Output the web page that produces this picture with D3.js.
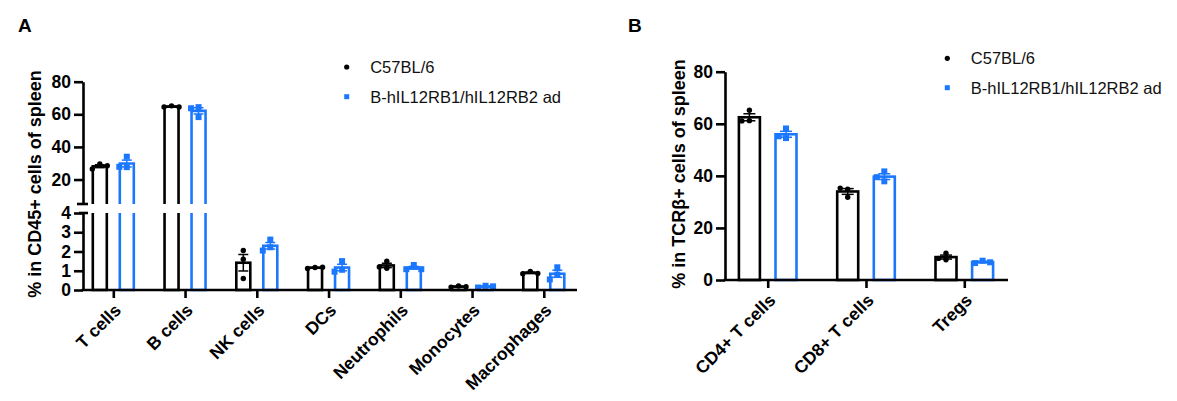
<!DOCTYPE html>
<html>
<head>
<meta charset="utf-8">
<script src="https://cdn.jsdelivr.net/npm/d3@7"></script>
<style>
  html, body { margin: 0; padding: 0; background: #fff; }
  svg { display: block; font-family: "Liberation Sans", Arial, sans-serif; }
</style>
</head>
<body>
<svg id="chart" width="1177" height="401"></svg>
<script>
// ---------- DATA ----------
const seriesNames = ["C57BL/6", "B-hIL12RB1/hIL12RB2 ad"];

const catsA = ["T cells", "B cells", "NK cells", "DCs", "Neutrophils", "Monocytes", "Macrophages"];
const wtA = [
  [29.5, 26.5, 28.5],
  [65.2, 64.5, 64.5],
  [2.05, 1.6, 0.6],
  [1.17, 1.12, 1.18],
  [1.5, 1.13, 1.2],
  [0.21, 0.15, 0.17],
  [0.97, 0.85, 0.86]
];
const hA = [
  [34.0, 27.6, 27.8],
  [64.4, 58.3, 63.7],
  [2.62, 2.22, 2.05],
  [1.5, 1.05, 0.95],
  [1.3, 1.08, 1.08],
  [0.22, 0.13, 0.19],
  [1.18, 0.8, 0.55]
];
const ticksAUpper = [20, 40, 60, 80];
const ticksALower = [0, 1, 2, 3, 4];

const catsB = ["CD4+ T cells", "CD8+ T cells", "Tregs"];
const wtB = [
  [65.2, 61.2, 61.1],
  [34.9, 31.8, 35.3],
  [10.3, 7.8, 8.3]
];
const hB = [
  [58.2, 54.5, 55.2],
  [41.7, 37.9, 39.5],
  [7.4, 6.5, 6.8]
];
const ticksB = [0, 20, 40, 60, 80];

// ---------- STYLE ----------
const BLACK = "#000000";
const BLUE = "#1C77FF";
const FONT_TICK = 17.5;
const FONT_XLAB = 17.5;
const FONT_TITLE = 18;

const svg = d3.select("#chart");
const fmt = d3.format("d");

function mean(a) { return d3.mean(a); }
function sem(a) { return d3.deviation(a) / Math.sqrt(a.length); }

// simple beeswarm: spread points horizontally when they overlap
function swarm(vals, yfn, r) {
  const placed = [];
  const d = 2 * r + 1.5;
  vals.forEach(v => {
    const y = yfn(v);
    const cands = [0, -d, d, -2 * d, 2 * d];
    let off = 0;
    for (const c of cands) {
      if (placed.every(p => Math.hypot(p.dx - c, p.y - y) >= 2 * r + 0.5)) { off = c; break; }
    }
    placed.push({ v, y, dx: off });
  });
  return placed;
}

function drawPoints(g, pts, cx, color, shape) {
  pts.forEach(p => {
    if (shape === "circle") {
      g.append("circle").attr("cx", cx + p.dx).attr("cy", p.y).attr("r", 2.7).attr("fill", color);
    } else {
      g.append("rect").attr("x", cx + p.dx - 3).attr("y", p.y - 3).attr("width", 6).attr("height", 6).attr("fill", color);
    }
  });
}

function drawErr(g, vals, yfn, cx, color, capW) {
  const m = mean(vals), s = sem(vals);
  g.append("line").attr("x1", cx).attr("x2", cx).attr("y1", yfn(m - s)).attr("y2", yfn(m + s))
    .attr("stroke", color).attr("stroke-width", 1.5);
  [m - s, m + s].forEach(v => {
    g.append("line").attr("x1", cx - capW / 2).attr("x2", cx + capW / 2).attr("y1", yfn(v)).attr("y2", yfn(v))
      .attr("stroke", color).attr("stroke-width", 1.5);
  });
}

// ---------- PANEL A ----------
const gA = svg.append("g");
const axAx = 83;
const yUpper = d3.scaleLinear().domain([5, 80]).range([204, 81.7]);
const yLower = d3.scaleLinear().domain([0, 4]).range([290, 213]);
const yA = v => (v <= 4.5 ? yLower(v) : yUpper(v));
const xA = d3.scalePoint().domain(catsA).range([113.3, 543.8]);
const offA = 13.5, bwA = 14;

catsA.forEach((c, i) => {
  [[wtA[i], -offA, BLACK, "circle"], [hA[i], offA, BLUE, "square"]].forEach(([vals, off, col, shape]) => {
    const cx = xA(c) + off;
    const m = mean(vals);
    const x0 = cx - bwA / 2, x1 = cx + bwA / 2;
    if (m <= 4) {
      gA.append("rect").attr("x", x0).attr("y", yLower(m)).attr("width", bwA).attr("height", yLower(0) - yLower(m))
        .attr("fill", "none").attr("stroke", col).attr("stroke-width", 2.6);
    } else {
      gA.append("path").attr("d", `M${x0},${yLower(4)}V${yLower(0)}H${x1}V${yLower(4)}`)
        .attr("fill", "none").attr("stroke", col).attr("stroke-width", 2.6);
      gA.append("path").attr("d", `M${x0},${yUpper(5)}V${yUpper(m)}H${x1}V${yUpper(5)}`)
        .attr("fill", "none").attr("stroke", col).attr("stroke-width", 2.6);
    }
    const pts = swarm(vals, yA, 3);
    drawPoints(gA, pts, cx, col, shape);
    drawErr(gA, vals, yA, cx, col, 10);
  });
});

gA.append("g").attr("transform", `translate(${axAx},0)`)
  .call(d3.axisLeft(yUpper).tickValues(ticksAUpper).tickFormat(fmt).tickSize(9).tickPadding(3).tickSizeOuter(0));
gA.append("g").attr("transform", `translate(${axAx},0)`)
  .call(d3.axisLeft(yLower).tickValues(ticksALower).tickFormat(fmt).tickSize(9).tickPadding(3).tickSizeOuter(0));
// break marks
gA.append("line").attr("x1", axAx - 6).attr("x2", axAx + 5).attr("y1", yUpper(5)).attr("y2", yUpper(5))
  .attr("stroke", BLACK).attr("stroke-width", 2.6);
gA.append("line").attr("x1", axAx - 4).attr("x2", axAx + 5).attr("y1", yLower(4)).attr("y2", yLower(4))
  .attr("stroke", BLACK).attr("stroke-width", 2.6);

const axX = gA.append("g").attr("transform", `translate(0,${yLower(0)})`)
  .call(d3.axisBottom(xA).tickSize(8).tickSizeOuter(0));
axX.select(".domain").remove();
gA.append("line").attr("x1", axAx - 1.3).attr("x2", 577).attr("y1", yLower(0)).attr("y2", yLower(0))
  .attr("stroke", BLACK).attr("stroke-width", 2.6);

gA.append("text").attr("transform", `translate(41,184) rotate(-90)`)
  .attr("text-anchor", "middle").attr("font-size", FONT_TITLE).attr("font-weight", "bold")
  .text("% in CD45+ cells of spleen");
gA.append("text").attr("x", 18).attr("y", 32).attr("font-size", 19).attr("font-weight", "bold").text("A");

// ---------- PANEL B ----------
const gB = svg.append("g");
const axBx = 725;
const yB = d3.scaleLinear().domain([0, 80]).range([280, 71.7]);
const xB = d3.scalePoint().domain(catsB).range([767.7, 964.3]);
const offB = 18.3, bwB = 21;

catsB.forEach((c, i) => {
  [[wtB[i], -offB, BLACK, "circle"], [hB[i], offB, BLUE, "square"]].forEach(([vals, off, col, shape]) => {
    const cx = xB(c) + off;
    const m = mean(vals);
    gB.append("rect").attr("x", cx - bwB / 2).attr("y", yB(m)).attr("width", bwB).attr("height", yB(0) - yB(m))
      .attr("fill", "none").attr("stroke", col).attr("stroke-width", 2.6);
    const pts = swarm(vals, yB, 3);
    drawPoints(gB, pts, cx, col, shape);
    drawErr(gB, vals, yB, cx, col, 12);
  });
});

gB.append("g").attr("transform", `translate(${axBx},0)`)
  .call(d3.axisLeft(yB).tickValues(ticksB).tickFormat(fmt).tickSize(9).tickPadding(3).tickSizeOuter(0));
const axXB = gB.append("g").attr("transform", `translate(0,${yB(0)})`)
  .call(d3.axisBottom(xB).tickSize(8).tickSizeOuter(0));
axXB.select(".domain").remove();
gB.append("line").attr("x1", axBx - 1.3).attr("x2", 1008).attr("y1", yB(0)).attr("y2", yB(0))
  .attr("stroke", BLACK).attr("stroke-width", 2.6);

gB.append("text").attr("transform", `translate(685,174) rotate(-90)`)
  .attr("text-anchor", "middle").attr("font-size", FONT_TITLE).attr("font-weight", "bold")
  .text("% in TCRβ+ cells of spleen");
gB.append("text").attr("x", 628).attr("y", 32).attr("font-size", 19).attr("font-weight", "bold").text("B");

// ---------- common axis styling ----------
svg.selectAll(".domain").attr("stroke", BLACK).attr("stroke-width", 2.6);
svg.selectAll(".tick line").attr("stroke", BLACK).attr("stroke-width", 2.6);
svg.selectAll(".tick text").attr("fill", BLACK).attr("font-size", FONT_TICK).attr("font-weight", "bold")
  .attr("font-family", "Liberation Sans, Arial, sans-serif");

[axX, axXB].forEach(ax => {
  ax.selectAll(".tick text")
    .attr("font-size", FONT_XLAB)
    .attr("text-anchor", "end")
    .attr("dy", "0.35em")
    .attr("y", 0)
    .attr("transform", "translate(4,17) rotate(-45)");
});

// ---------- LEGENDS ----------
function legend(x, y1, y2) {
  const g = svg.append("g");
  g.append("circle").attr("cx", x).attr("cy", y1).attr("r", 2.6).attr("fill", BLACK);
  g.append("rect").attr("x", x - 2.5).attr("y", y2 - 2.5).attr("width", 5).attr("height", 5).attr("fill", BLUE);
  [y1, y2].forEach((yy, k) => {
    g.append("text").attr("x", x + 23.5).attr("y", yy).attr("dy", "0.36em")
      .attr("font-size", 16.5).attr("fill", "#111").text(seriesNames[k]);
  });
}
legend(346.7, 67, 96.7);
legend(947.3, 58.3, 87.7);
</script>
</body>
</html>
